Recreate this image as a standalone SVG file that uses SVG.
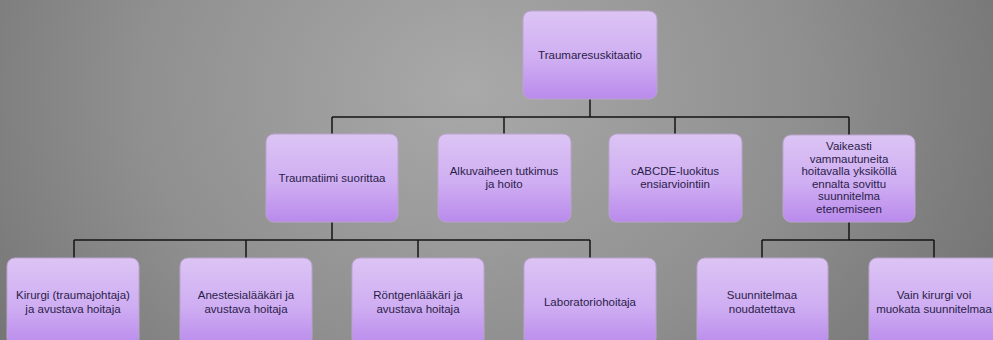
<svg xmlns="http://www.w3.org/2000/svg" width="993" height="340" viewBox="0 0 993 340">
<defs>
<radialGradient id="bg" cx="470" cy="90" r="560" gradientUnits="userSpaceOnUse" gradientTransform="translate(470 90) scale(1 0.8) translate(-470 -90)">
<stop offset="0" stop-color="#a9a9a9"/>
<stop offset="0.6" stop-color="#8f8f8f"/>
<stop offset="1" stop-color="#767676"/>
</radialGradient>
<linearGradient id="box" x1="0" y1="0" x2="0" y2="1">
<stop offset="0" stop-color="#dcc4f4"/>
<stop offset="0.55" stop-color="#cfaef2"/>
<stop offset="1" stop-color="#b98aec"/>
</linearGradient>
<style>
.n rect{fill:url(#box);stroke:#b9a3cc;stroke-width:1}
.n text{font-family:"Liberation Sans",Arial,sans-serif;font-size:11.5px;fill:#2b1d4a;text-anchor:middle;dominant-baseline:central}
#connectors path{fill:none;stroke:#151515;stroke-width:1.5}
</style>
</defs>
<rect width="993" height="340" fill="url(#bg)"/>
<g id="connectors">
<path d="M590 99V117M332 117H849M332 117V134M504 117V134M675 117V134M849 117V135"/>
<path d="M332 222V240M74 240H590M74 240V258M246 240V258M418 240V258M590 240V258"/>
<path d="M849 222V240M762 240H934M762 240V258M934 240V258"/>
</g>
<g id="n-trauma" class="n"><rect x="523" y="11" width="134" height="88" rx="8"/><text x="590" y="55">Traumaresuskitaatio</text></g>
<g id="n-traumatiimi" class="n"><rect x="266" y="134" width="132" height="88" rx="8"/><text x="332" y="178">Traumatiimi suorittaa</text></g>
<g id="n-alku" class="n"><rect x="438" y="134" width="133" height="88" rx="8"/><text x="504" y="171">Alkuvaiheen tutkimus</text><text x="504" y="184">ja hoito</text></g>
<g id="n-cabcde" class="n"><rect x="609" y="134" width="133" height="88" rx="8"/><text x="675" y="171">cABCDE-luokitus</text><text x="675" y="184">ensiarviointiin</text></g>
<g id="n-vaikeasti" class="n"><rect x="783" y="135" width="132" height="87" rx="8"/><text x="849" y="146">Vaikeasti</text><text x="849" y="158.6">vammautuneita</text><text x="849" y="171.2">hoitavalla yksiköllä</text><text x="849" y="183.8">ennalta sovittu</text><text x="849" y="196.4">suunnitelma</text><text x="849" y="209">etenemiseen</text></g>
<g id="n-kirurgi" class="n"><rect x="7" y="258" width="132" height="88" rx="8"/><text x="73" y="295">Kirurgi (traumajohtaja)</text><text x="73" y="309">ja avustava hoitaja</text></g>
<g id="n-anestesia" class="n"><rect x="180" y="258" width="132" height="88" rx="8"/><text x="246" y="295">Anestesialääkäri ja</text><text x="246" y="309">avustava hoitaja</text></g>
<g id="n-rontgen" class="n"><rect x="352" y="258" width="132" height="88" rx="8"/><text x="418" y="295">Röntgenlääkäri ja</text><text x="418" y="309">avustava hoitaja</text></g>
<g id="n-lab" class="n"><rect x="524" y="258" width="132" height="88" rx="8"/><text x="590" y="302">Laboratoriohoitaja</text></g>
<g id="n-suunnitelmaa" class="n"><rect x="697" y="258" width="131" height="88" rx="8"/><text x="762" y="295">Suunnitelmaa</text><text x="762" y="309">noudatettava</text></g>
<g id="n-vain" class="n"><rect x="869" y="258" width="132" height="88" rx="8"/><text x="934" y="295">Vain kirurgi voi</text><text x="934" y="309">muokata suunnitelmaa</text></g>
</svg>
